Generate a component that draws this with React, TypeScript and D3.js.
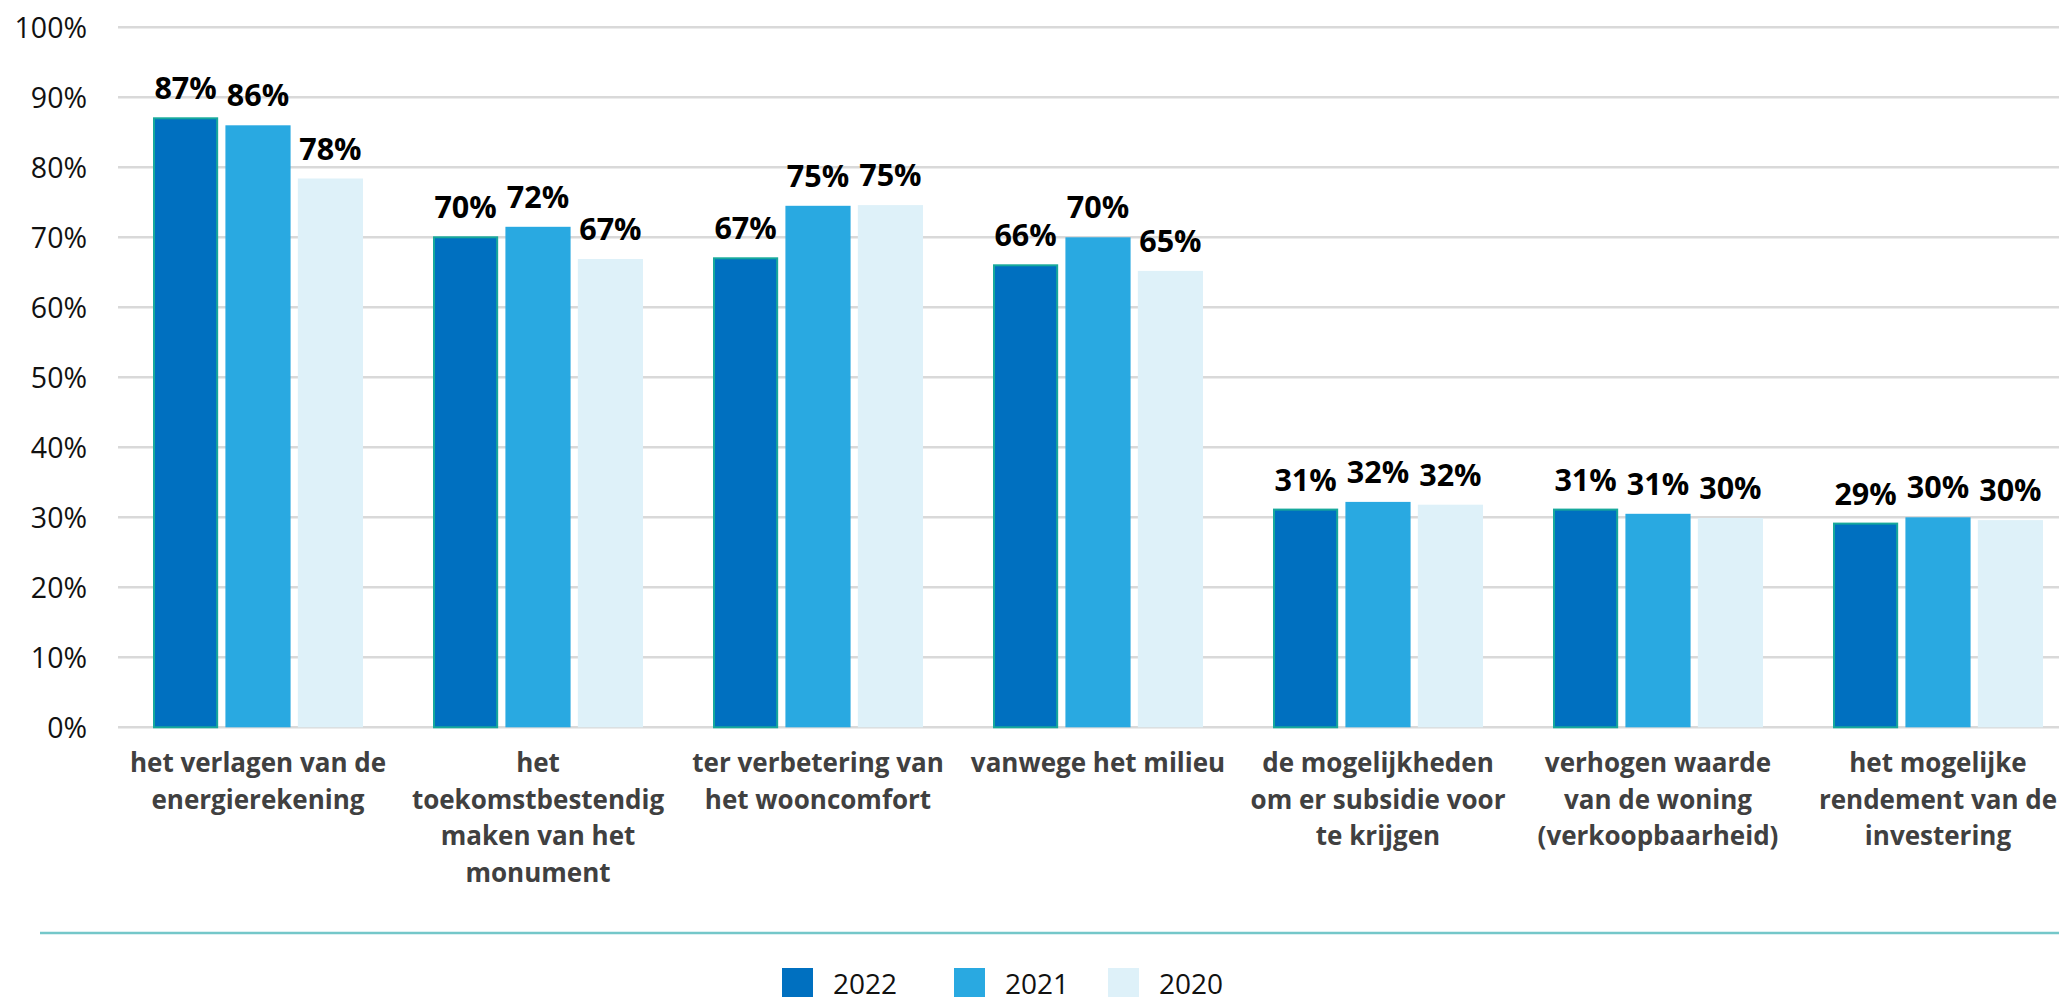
import React, { useEffect } from "react";
import * as d3 from "d3";

const categories: string[][] = [
  ["het verlagen van de", "energierekening"],
  ["het", "toekomstbestendig", "maken van het", "monument"],
  ["ter verbetering van", "het wooncomfort"],
  ["vanwege het milieu"],
  ["de mogelijkheden", "om er subsidie voor", "te krijgen"],
  ["verhogen waarde", "van de woning", "(verkoopbaarheid)"],
  ["het mogelijke", "rendement van de", "investering"],
];
const seriesNames = ["2022", "2021", "2020"];
const values2022 = [87, 70, 67, 66, 31.1, 31.1, 29.1];
const values2021 = [86, 71.5, 74.5, 70, 32.2, 30.5, 30];
const values2020 = [78.4, 66.9, 74.6, 65.2, 31.8, 29.9, 29.6];
const labels2022 = ["87%", "70%", "67%", "66%", "31%", "31%", "29%"];
const labels2021 = ["86%", "72%", "75%", "70%", "32%", "31%", "30%"];
const labels2020 = ["78%", "67%", "75%", "65%", "32%", "30%", "30%"];
const yTicks = [0, 10, 20, 30, 40, 50, 60, 70, 80, 90, 100];
const colors = ["#0070C0", "#29A9E1", "#DEF1F9"];

const W = 2059;
const H = 997;
const FONT = "'Open Sans', 'Noto Sans', sans-serif";

export default function App() {
  useEffect(() => {
    document.body.style.margin = "0";
  }, []);

  const keys = categories.map((_, i) => String(i));
  const x0 = d3
    .scaleBand<string>()
    .domain(keys)
    .range([118, 118 + 7 * 280])
    .paddingInner(0.25)
    .paddingOuter(0.125);
  const x1 = d3
    .scaleBand<string>()
    .domain(seriesNames)
    .range([0, x0.bandwidth()])
    .paddingInner(0.1);
  const y = d3.scaleLinear().domain([0, 100]).range([727.3, 27.3]);

  const seriesVals = [values2022, values2021, values2020];
  const seriesLabels = [labels2022, labels2021, labels2020];

  const legendX = [782, 954, 1108];

  return (
    <svg
      width={W}
      height={H}
      style={{ position: "absolute", left: 0, top: 0, display: "block" }}
      fontFamily={FONT}
    >
      <rect x={0} y={0} width={W} height={H} fill="#fff" />
      {yTicks.map((t) => (
        <g key={t}>
          <line
            x1={118}
            x2={W}
            y1={y(t)}
            y2={y(t)}
            stroke="#D9D9D9"
            strokeWidth={2.5}
          />
          <text
            x={87}
            y={y(t)}
            dy="0.36em"
            textAnchor="end"
            fontSize={28.5}
            fill="#111"
          >
            {t}%
          </text>
        </g>
      ))}
      {keys.map((k, ci) => (
        <g key={k} transform={`translate(${x0(k)},0)`}>
          {seriesNames.map((s, si) => {
            const v = seriesVals[si][ci];
            const bx = x1(s)!;
            const bw = x1.bandwidth();
            return (
              <g key={s}>
                <rect
                  x={bx + (si === 0 ? 1 : 0)}
                  y={y(v)}
                  width={bw - (si === 0 ? 2 : 0)}
                  height={y(0) - y(v)}
                  fill={colors[si]}
                  stroke={si === 0 ? "#17A99C" : "none"}
                  strokeWidth={si === 0 ? 2 : 0}
                />
                <text
                  x={bx + bw / 2}
                  y={y(v) - 19}
                  textAnchor="middle"
                  fontSize={30.5}
                  fontWeight={700}
                  fill="#000"
                >
                  {seriesLabels[si][ci]}
                </text>
              </g>
            );
          })}
          <text
            x={x0.bandwidth() / 2}
            y={772}
            textAnchor="middle"
            fontSize={26}
            fontWeight={700}
            fill="#404040"
          >
            {categories[ci].map((line, li) => (
              <tspan key={li} x={x0.bandwidth() / 2} y={772 + li * 36.5}>
                {line}
              </tspan>
            ))}
          </text>
        </g>
      ))}
      <line x1={40} x2={W} y1={933} y2={933} stroke="#74C7C9" strokeWidth={2.5} />
      {seriesNames.map((s, si) => (
        <g key={s}>
          <rect
            x={legendX[si]}
            y={968}
            width={31}
            height={40}
            fill={colors[si]}
          />
          <text x={legendX[si] + 51} y={994} fontSize={28} fill="#111">
            {s}
          </text>
        </g>
      ))}
    </svg>
  );
}
